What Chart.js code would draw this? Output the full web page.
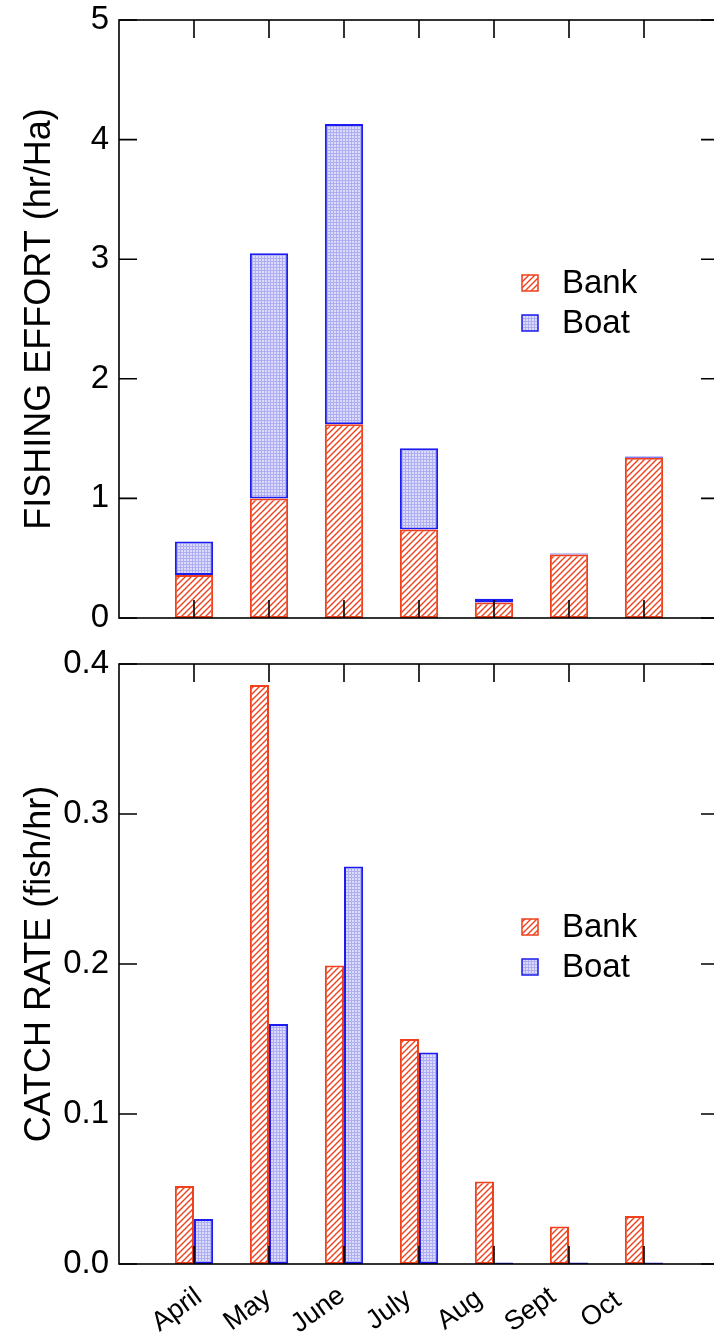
<!DOCTYPE html>
<html>
<head>
<meta charset="utf-8">
<script src="https://cdn.jsdelivr.net/npm/chart.js@4.4.0/dist/chart.umd.min.js"></script>
<style>
html, body { margin: 0; padding: 0; background: #fff; overflow: hidden; }
#wrap { position: relative; width: 714px; height: 1339px; overflow: hidden; }
canvas { position: absolute; left: 0; }
</style>
</head>
<body>
<div id="wrap">
	<canvas id="effort" width="730" height="640" style="top:0"></canvas>
	<canvas id="catch" width="730" height="699" style="top:640px"></canvas>
</div>
<script>
var months = ["April", "May", "June", "July", "Aug", "Sept", "Oct"];
var effortBank = [0.36, 1.00, 1.62, 0.74, 0.13, 0.53, 1.34];
var effortBoat = [0.28, 2.05, 2.51, 0.68, 0.03, 0.01, 0.01];
var catchBank = [0.052, 0.386, 0.199, 0.150, 0.055, 0.025, 0.032];
var catchBoat = [0.030, 0.160, 0.265, 0.141, 0.001, 0.001, 0.001];
var effortTicks = [0, 1, 2, 3, 4, 5];
var catchTicks = [0, 0.1, 0.2, 0.3, 0.4];

var
	red = "#f0401c",
	blue = "#1c1cf0",
	font = "'Liberation Sans', Arial, sans-serif";

function hatch() {
	var c = document.createElement("canvas"), g;
	c.width = 6; c.height = 6;
	g = c.getContext("2d");
	g.fillStyle = "#fff";
	g.fillRect(0, 0, 6, 6);
	g.strokeStyle = red;
	g.lineWidth = 1.4;
	g.beginPath();
	g.moveTo(-1, 7); g.lineTo(7, -1);
	g.moveTo(-1, 1); g.lineTo(1, -1);
	g.moveTo(5, 7); g.lineTo(7, 5);
	g.stroke();
	return g.createPattern(c, "repeat");
}

function dots() {
	var c = document.createElement("canvas"), g;
	c.width = 3; c.height = 3;
	g = c.getContext("2d");
	g.fillStyle = "#dcdcfa";
	g.fillRect(0, 0, 3, 3);
	g.fillStyle = "#aeaef2";
	g.fillRect(0, 0, 3, 1);
	g.fillRect(0, 0, 1, 3);
	return g.createPattern(c, "repeat");
}

var bankFill = hatch(), boatFill = dots();

function pts(arr) {
	return arr.map(function(v, i) { return { x: i, y: v }; });
}

// frame, inward ticks, in-plot legend and (bottom panel) slanted month labels
var frameTicks = {
	id: "frameTicks",
	afterDatasetsDraw: function(chart, args, opts) {
		var ctx = chart.ctx, a = chart.chartArea,
			x = chart.scales.x, y = chart.scales.y, len = 18;
		ctx.save();
		ctx.strokeStyle = "#000";
		ctx.lineWidth = 1.6;
		ctx.strokeRect(a.left, a.top, a.right - a.left, a.bottom - a.top);
		ctx.beginPath();
		months.forEach(function(m, i) {
			var px = x.getPixelForValue(i);
			ctx.moveTo(px, a.bottom); ctx.lineTo(px, a.bottom - len);
			ctx.moveTo(px, a.top); ctx.lineTo(px, a.top + len);
		});
		y.ticks.forEach(function(t) {
			var py = y.getPixelForValue(t.value);
			ctx.moveTo(a.left, py); ctx.lineTo(a.left + len, py);
			ctx.moveTo(a.right, py); ctx.lineTo(a.right - len, py);
		});
		ctx.stroke();

		var lx = a.left + 403, ly = a.top + 255;
		ctx.font = "33px " + font;
		ctx.textBaseline = "middle";
		chart.data.datasets.forEach(function(ds, i) {
			var by = ly + i * 40;
			ctx.fillStyle = ds.backgroundColor;
			ctx.fillRect(lx, by, 16, 16);
			ctx.lineWidth = 1.5;
			ctx.strokeStyle = ds.borderColor;
			ctx.strokeRect(lx, by, 16, 16);
			ctx.fillStyle = "#000";
			ctx.fillText(ds.label, lx + 40, by + 9);
		});

		if (opts.labels) {
			ctx.font = "27px " + font;
			ctx.textAlign = "center";
			ctx.fillStyle = "#000";
			months.forEach(function(m, i) {
				// the original labels drift a little left of their bars
				var cx = x.getPixelForValue(i) - 17 - 4.3 * i;
				ctx.save();
				ctx.translate(cx, a.bottom + 46);
				ctx.rotate(-36 * Math.PI / 180);
				ctx.fillText(m, 0, 0);
				ctx.restore();
			});
		}
		ctx.restore();
	}
};

function yAxis(title, ticks, max, digits) {
	return {
		min: 0,
		max: max,
		afterFit: function(s) {
			s.width = 119;
			s.paddingTop = 0;
			s.paddingBottom = 0;
		},
		afterBuildTicks: function(s) { s.ticks = ticks.map(function(v) { return { value: v }; }); },
		grid: { display: false, drawTicks: false },
		border: { display: false },
		ticks: {
			color: "#000",
			padding: 10,
			font: { family: font, size: 33 },
			callback: function(v) { return v.toFixed(digits); }
		},
		title: {
			display: true,
			text: title,
			color: "#000",
			font: { family: font, size: 36 },
			padding: { top: 18, bottom: 0 }
		}
	};
}

Chart.defaults.animation = false;

var effortY = yAxis("FISHING EFFORT (hr/Ha)", effortTicks, 5, 0);
effortY.stacked = true;

new Chart(document.getElementById("effort").getContext("2d"), {
	type: "bar",
	data: {
		datasets: [
			{ label: "Bank", data: pts(effortBank), backgroundColor: bankFill, borderColor: red, borderWidth: 2, borderSkipped: false },
			{ label: "Boat", data: pts(effortBoat), backgroundColor: boatFill, borderColor: blue, borderWidth: 2, borderSkipped: false }
		]
	},
	options: {
		responsive: false,
		layout: { padding: { top: 20, right: 11, bottom: 22, left: 0 } },
		datasets: { bar: { barPercentage: 1, categoryPercentage: 0.51 } },
		plugins: { legend: { display: false }, tooltip: { enabled: false }, frameTicks: { labels: false } },
		scales: {
			x: { type: "linear", min: -1, max: 7, offset: false, stacked: true, display: false },
			y: effortY
		}
	},
	plugins: [frameTicks]
});

new Chart(document.getElementById("catch").getContext("2d"), {
	type: "bar",
	data: {
		datasets: [
			{ label: "Bank", data: pts(catchBank), backgroundColor: bankFill, borderColor: red, borderWidth: 2, borderSkipped: false },
			{ label: "Boat", data: pts(catchBoat), backgroundColor: boatFill, borderColor: blue, borderWidth: 2, borderSkipped: false }
		]
	},
	options: {
		responsive: false,
		layout: { padding: { top: 24, right: 11, bottom: 75, left: 0 } },
		datasets: { bar: { barPercentage: 1, categoryPercentage: 0.51 } },
		plugins: { legend: { display: false }, tooltip: { enabled: false }, frameTicks: { labels: true } },
		scales: {
			x: { type: "linear", min: -1, max: 7, offset: false, display: false },
			y: yAxis("CATCH RATE (fish/hr)", catchTicks, 0.4, 1)
		}
	},
	plugins: [frameTicks]
});
</script>
</body>
</html>
